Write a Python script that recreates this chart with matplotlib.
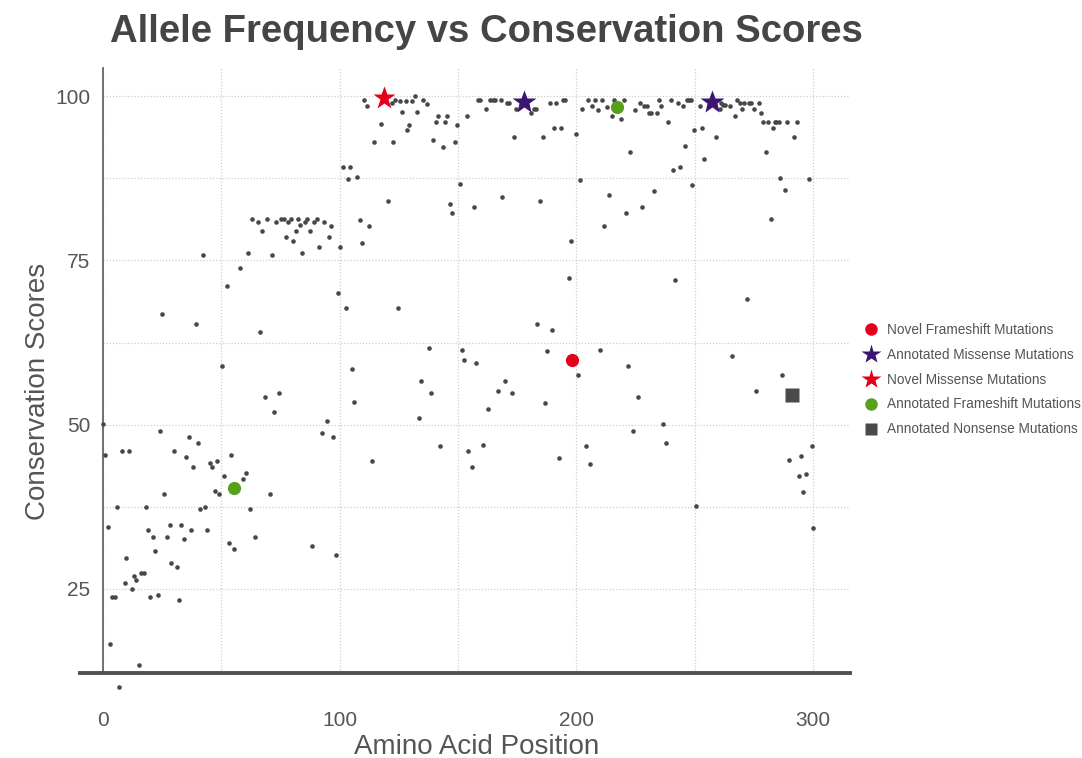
import matplotlib.pyplot as plt
from matplotlib.lines import Line2D

# background variants (amino acid position, conservation score)
dot_x = [
    110.3, 111.4, 117.6, 114.4, 122.4, 122.0, 123.4, 125.5, 127.9, 130.4,
    131.7, 126.3, 132.7, 129.4, 128.6, 135.2, 136.8, 141.5, 145.5, 140.7,
    144.6, 149.7, 139.4, 143.5, 148.7, 153.6, 158.3, 159.3, 163.5, 164.6,
    165.7, 168.0, 161.7, 170.6, 171.7, 174.5, 173.5, 180.7, 182.1, 182.9,
    188.7, 191.5, 194.2, 195.3, 190.7, 193.6, 185.8, 199.7, 204.7, 207.7,
    210.7, 202.5, 206.7, 209.0, 212.9, 215.9, 220.0, 214.9, 218.8, 224.9,
    226.9, 228.7, 229.7, 230.7, 231.6, 233.9, 234.9, 235.6, 238.8, 239.8,
    242.8, 244.9, 246.7, 247.7, 248.6, 252.1, 249.7, 253.1, 245.9, 222.8,
    259.0, 261.0, 261.8, 262.9, 264.9, 260.7, 267.7, 269.1, 270.9, 272.8,
    273.8, 277.0, 267.0, 269.8, 275.0, 278.0, 279.0, 281.1, 283.8, 284.5,
    285.4, 288.8, 293.1, 283.1, 292.1, 280.0, 253.8, 286.0, 298.3, 288.3,
    282.1, 272.1, 265.9, 286.7, 275.9, 299.4, 294.9, 290.0,
    113.5, 142.5, 154.3, 160.7, 155.8, 192.6, 203.9, 205.6, 237.9, 250.5,
    294.2, 296.9, 295.9, 299.8,
    101.3, 104.4, 103.4, 107.4, 120.4, 108.4, 112.5, 109.4, 100.1, 102.5,
    124.5, 146.6, 147.6, 150.7, 156.6, 168.6, 184.7, 197.6, 196.9, 201.6,
    213.8, 211.7, 220.8, 227.7, 232.9, 240.7, 243.8, 249.0, 241.7, 137.6,
    105.3, 151.5, 152.7, 157.6, 134.3, 138.6, 106.2, 133.5, 183.5, 189.8,
    187.7, 200.8, 210.0, 221.8, 225.9, 169.7, 166.9, 172.8, 162.8, 186.7,
    223.9, 236.7,
    63.1, 65.3, 67.3, 69.3, 73.2, 75.2, 76.3, 78.3, 79.4, 77.2,
    80.3, 81.4, 82.3, 83.4, 85.3, 86.3, 87.3, 89.3, 90.3, 93.4,
    96.3, 95.4, 91.3, 84.1, 71.3, 61.1, 42.1, 58.0,
    52.3, 25.1, 39.2, 66.2, 99.4, 50.3, 68.3, 74.4, 72.1, 92.4,
    94.5, 97.0, 0.1, 24.1, 36.2, 40.3,
    1.0, 8.2, 11.0, 30.0, 35.2, 38.2, 45.1, 46.2, 48.2, 54.2,
    51.2, 59.3, 60.4, 47.2, 49.0, 70.4, 25.9, 62.2, 41.0, 43.0,
    5.9, 18.2, 2.0, 19.1, 21.1, 28.2, 33.1, 27.2, 34.1, 37.2,
    44.1, 53.1, 55.2, 64.2, 22.1, 9.8, 28.9, 31.3, 88.3, 98.4,
    13.0, 14.1, 16.2, 17.3, 9.2, 12.3, 3.9, 5.1, 20.0, 23.1,
    32.1, 3.1, 15.1, 6.9,
]
dot_y = [
    99.4, 98.5, 95.7, 93.0, 93.0, 98.9, 99.4, 99.3, 99.3, 99.3,
    100.0, 97.6, 97.6, 95.6, 94.8, 99.4, 98.8, 97.0, 97.0, 96.1,
    96.1, 95.6, 93.4, 92.3, 93.0, 97.0, 99.4, 99.4, 99.4, 99.4,
    99.4, 99.4, 98.0, 98.9, 98.9, 98.0, 93.8, 97.5, 98.0, 98.0,
    98.9, 98.9, 99.4, 99.4, 95.1, 95.2, 93.8, 94.2, 99.4, 99.4,
    99.4, 98.0, 98.5, 97.9, 98.4, 99.4, 99.4, 97.0, 96.6, 97.9,
    98.9, 98.5, 98.5, 97.5, 97.5, 97.5, 99.4, 98.5, 96.1, 99.4,
    98.9, 98.5, 99.4, 99.4, 99.4, 98.5, 94.8, 95.2, 92.4, 91.5,
    93.8, 98.9, 98.7, 98.7, 98.5, 98.0, 99.4, 98.9, 98.9, 98.9,
    98.9, 98.9, 97.0, 98.0, 98.0, 97.5, 96.1, 96.1, 96.1, 96.1,
    96.1, 96.1, 96.1, 95.2, 93.8, 91.5, 90.5, 87.5, 87.4, 85.8,
    81.3, 69.2, 60.4, 57.6, 55.2, 46.8, 45.3, 44.7,
    44.5, 46.8, 46.0, 46.9, 43.5, 45.0, 46.8, 44.0, 47.2, 37.6,
    42.2, 42.5, 39.8, 34.3,
    89.2, 89.2, 87.4, 87.7, 84.0, 81.2, 80.3, 77.6, 77.0, 67.8,
    67.8, 83.6, 82.2, 86.6, 83.1, 84.6, 84.1, 77.9, 72.4, 87.3,
    85.0, 80.3, 82.2, 83.2, 85.5, 88.7, 89.2, 86.5, 72.0, 61.7,
    58.5, 61.3, 59.8, 59.4, 56.7, 54.8, 53.4, 51.0, 65.4, 64.4,
    61.2, 57.6, 61.3, 58.9, 54.2, 56.7, 55.2, 54.8, 52.4, 53.3,
    49.1, 50.1,
    81.3, 80.8, 79.5, 81.3, 80.8, 81.3, 81.3, 80.8, 81.3, 78.5,
    77.9, 79.5, 81.3, 80.4, 80.8, 81.3, 79.5, 80.8, 81.3, 80.8,
    80.3, 78.5, 77.0, 76.1, 75.8, 76.1, 75.8, 73.8,
    71.1, 66.9, 65.4, 64.1, 70.1, 58.9, 54.2, 54.8, 52.0, 48.7,
    50.5, 48.2, 50.1, 49.1, 48.2, 47.2,
    45.4, 46.0, 46.0, 46.0, 45.1, 43.6, 44.2, 43.6, 44.5, 45.4,
    42.2, 41.8, 42.7, 39.9, 39.4, 39.4, 39.4, 37.1, 37.1, 37.5,
    37.5, 37.5, 34.4, 33.9, 32.9, 34.8, 34.8, 32.9, 32.6, 33.9,
    33.9, 32.0, 31.1, 32.9, 30.7, 29.7, 28.9, 28.3, 31.5, 30.1,
    27.0, 26.4, 27.4, 27.4, 25.9, 25.0, 23.7, 23.7, 23.7, 24.1,
    23.3, 16.6, 13.4, 10.1,
]

# highlighted mutations
novel_fs_x, novel_fs_y = [198.1], [59.8]
annot_ms_x, annot_ms_y = [177.9, 257.3], [99.2, 99.1]
novel_ms_x, novel_ms_y = [118.7], [99.7]
annot_fs_x, annot_fs_y = [55.3, 217.2], [40.3, 98.3]
annot_ns_x, annot_ns_y = [291.3], [54.5]

x_ticks = [0, 100, 200, 300]
y_ticks = [25, 50, 75, 100]

RED = '#e3001b'
PURPLE = '#3b1670'
GREEN = '#56a01a'
DARK = '#474747'
TEXT = '#555555'

plt.rcParams['font.family'] = ['Liberation Sans', 'DejaVu Sans']

fig = plt.figure(figsize=(10.82, 7.58), dpi=100)
ax = fig.add_axes([103 / 1082, 1 - 673 / 758, 747 / 1082, 605 / 758])
ax.set_xlim(0, 315.6)
ax.set_ylim(12.2, 104.3)

ax.plot(dot_x, dot_y, 'o', ms=3.3, color=DARK, mec='none', clip_on=False, zorder=3)
ax.plot(novel_fs_x, novel_fs_y, 'o', ms=9.5, color=RED, mec='none', clip_on=False, zorder=4)
ax.plot(annot_ms_x, annot_ms_y, '*', ms=18, color=PURPLE, mec='none', clip_on=False, zorder=4)
ax.plot(novel_ms_x, novel_ms_y, '*', ms=17, color=RED, mec='none', clip_on=False, zorder=4)
ax.plot(annot_fs_x, annot_fs_y, 'o', ms=9.5, color=GREEN, mec='none', clip_on=False, zorder=4)
ax.plot(annot_ns_x, annot_ns_y, 's', ms=9.5, color='#4a4a4a', mec='none', clip_on=False, zorder=4)

ax.set_xticks(x_ticks)
ax.set_yticks(y_ticks)
ax.set_xticks([50, 150, 250], minor=True)
ax.set_yticks([37.5, 62.5, 87.5], minor=True)
ax.grid(True, which='both', color='#cfcfcf', linestyle=(0, (1, 1.5)), linewidth=0.9)
ax.set_axisbelow(True)
ax.tick_params(which='both', length=0)
ax.tick_params(axis='x', pad=27, labelsize=15, labelcolor=TEXT)
ax.tick_params(axis='y', pad=9, labelsize=15, labelcolor=TEXT)

for s in ['top', 'right']:
    ax.spines[s].set_visible(False)
ax.spines['left'].set_color('#666666')
ax.spines['left'].set_linewidth(1.3)
ax.spines['bottom'].set_color('#505050')
ax.spines['bottom'].set_linewidth(2.8)
ax.spines['bottom'].set_bounds(-9.7, 315.6)

ax.set_xlabel('Amino Acid Position', fontsize=20, color=TEXT, labelpad=3)
ax.set_ylabel('Conservation Scores', fontsize=20, color=TEXT)
ax.yaxis.set_label_coords(-0.07, 0.466)
fig.text(0.45, 0.958, 'Allele Frequency vs Conservation Scores', ha='center', va='center',
         fontsize=27.5, fontweight='bold', color='#454545')

handles = [
    Line2D([], [], ls='none', marker='o', ms=9, color=RED, mec='none'),
    Line2D([], [], ls='none', marker='*', ms=15, color=PURPLE, mec='none'),
    Line2D([], [], ls='none', marker='*', ms=15, color=RED, mec='none'),
    Line2D([], [], ls='none', marker='o', ms=9, color=GREEN, mec='none'),
    Line2D([], [], ls='none', marker='s', ms=8.5, color='#4a4a4a', mec='none'),
]
labels = ['Novel Frameshift Mutations', 'Annotated Missense Mutations',
          'Novel Missense Mutations', 'Annotated Frameshift Mutations',
          'Annotated Nonsense Mutations']
fig.legend(handles, labels, loc='upper left', bbox_to_anchor=(856 / 1082, 1 - 316 / 758),
           frameon=False, fontsize=9.8, labelcolor=TEXT, handlelength=1.2,
           handletextpad=0.6, labelspacing=0.8, borderpad=0)

fig.savefig('out.png', dpi=100)
